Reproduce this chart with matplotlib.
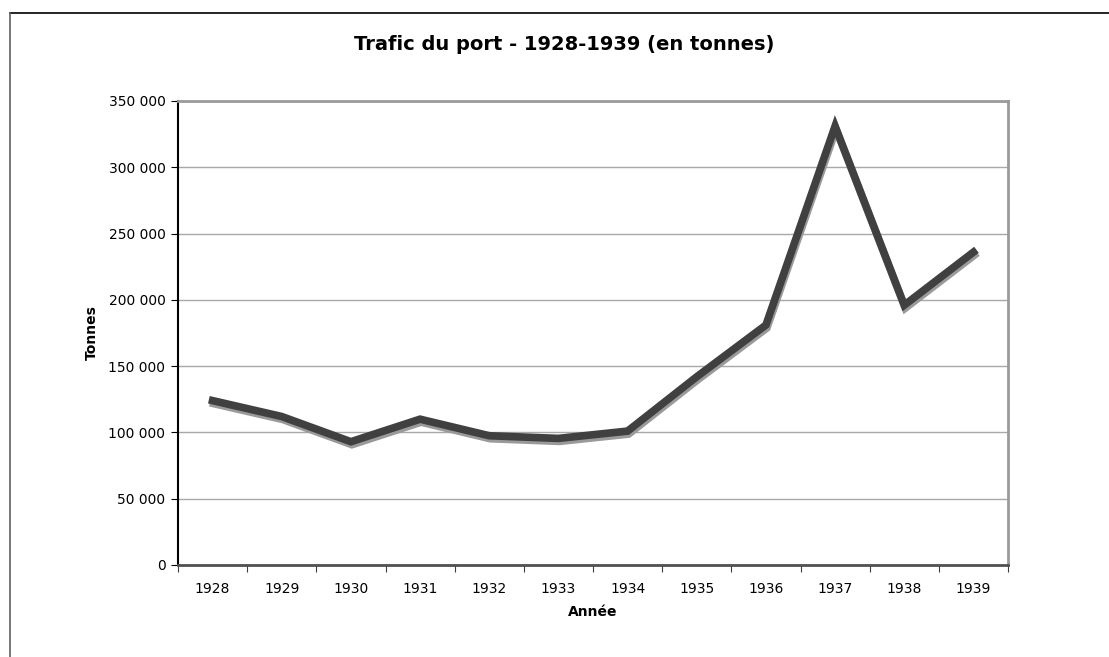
import matplotlib
matplotlib.use("Agg")
import matplotlib.pyplot as plt
from matplotlib.lines import Line2D
from matplotlib.ticker import FuncFormatter, FixedLocator
import numpy as np

years = ["1928", "1929", "1930", "1931", "1932", "1933", "1934", "1935", "1936", "1937", "1938", "1939"]
tonnes = [124000, 112000, 93000, 110000, 97500, 95500, 101000, 142000, 181000, 331000, 196000, 236000]

plt.rcParams['font.family'] = ['DejaVu Sans']
fig = plt.figure(figsize=(11.09, 6.57), dpi=100)
W, H = 1109, 657
ax = fig.add_axes([178 / W, 1 - 565 / H, (1008 - 178) / W, (565 - 101) / H])

x = np.arange(len(years))
# shadow
ax.plot(x, tonnes, color='#9a9a9a', lw=5.5, solid_joinstyle='miter',
        transform=ax.transData + matplotlib.transforms.ScaledTranslation(1/100, -3/100, fig.dpi_scale_trans), zorder=3)
ax.plot(x, tonnes, color='#404040', lw=5.5, solid_joinstyle='miter', zorder=4)

ax.set_xlim(-0.5, len(years) - 0.5)
ax.set_ylim(0, 350000)
ax.set_yticks(np.arange(0, 350001, 50000))
ax.yaxis.set_major_formatter(FuncFormatter(lambda v, p: f"{int(v):,}".replace(",", " ")))
ax.grid(axis='y', color='#a8a8a8', lw=1)
ax.set_axisbelow(True)

ax.xaxis.set_major_locator(FixedLocator(np.arange(-0.5, len(years), 1.0)))
ax.xaxis.set_major_formatter(FuncFormatter(lambda v, p: ""))
ax.xaxis.set_minor_locator(FixedLocator(x))
ax.set_xticklabels(years, minor=True)
ax.tick_params(axis='x', which='minor', length=0, labelsize=10, pad=12)
ax.tick_params(axis='x', which='major', length=5, direction='out', color='#404040')
ax.tick_params(axis='y', length=5, direction='out', labelsize=10, pad=4)

for s in ['top', 'right']:
    ax.spines[s].set_color('#9a9a9a')
    ax.spines[s].set_linewidth(2)
ax.spines['left'].set_color('black')
ax.spines['left'].set_linewidth(1.5)
ax.spines['bottom'].set_color('#505050')
ax.spines['bottom'].set_linewidth(2)

fig.text(564 / W, 1 - 44 / H, "Trafic du port - 1928-1939 (en tonnes)", ha='center', va='center',
         fontsize=14, fontweight='bold')
fig.text(92 / W, 1 - 333 / H, "Tonnes", rotation=90, ha='center', va='center', fontsize=10, fontweight='bold')
fig.text(593 / W, 1 - 612 / H, "Année", ha='center', va='center', fontsize=10, fontweight='bold')

fig.add_artist(Line2D([10 / W, 1], [1 - 13 / H, 1 - 13 / H], color='black', lw=1.2, transform=fig.transFigure))
fig.add_artist(Line2D([10 / W, 10 / W], [1 - 13 / H, 0], color='#606060', lw=1.2, transform=fig.transFigure))

fig.savefig("out.png", dpi=100)
